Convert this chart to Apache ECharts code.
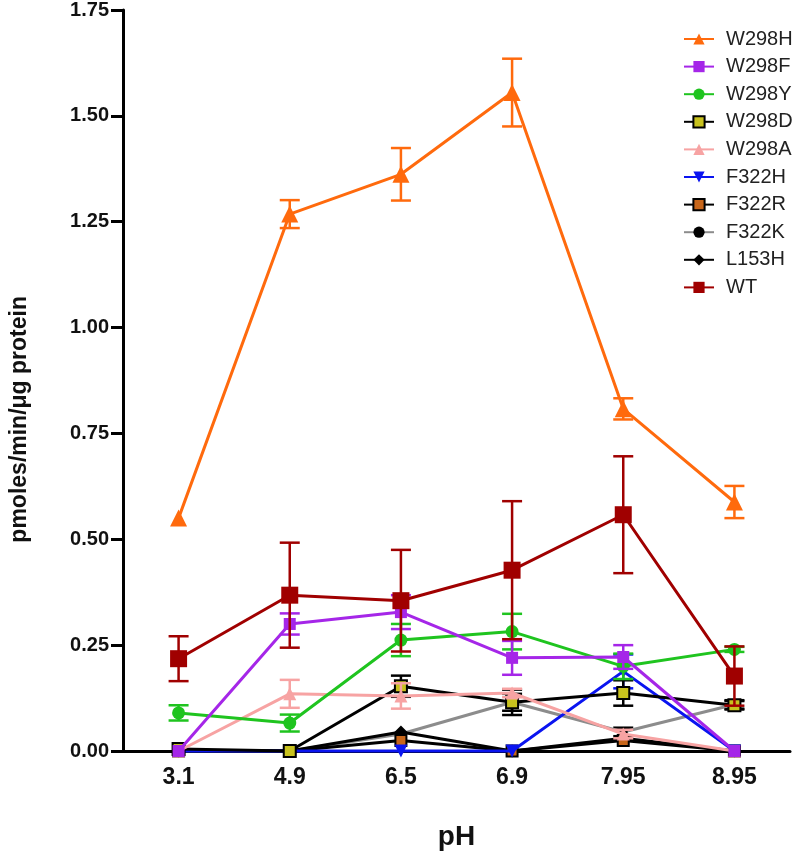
<!DOCTYPE html>
<html>
<head>
<meta charset="utf-8">
<script src="https://cdn.jsdelivr.net/npm/echarts@6/dist/echarts.min.js"></script>
<style>html,body{margin:0;padding:0;background:#fff}#c{width:800px;height:864px}</style>
</head>
<body>
<div id="c"></div>
<script>
const categories = ['3.1', '4.9', '6.5', '6.9', '7.95', '8.95'];
const yTicks = [0, 0.25, 0.5, 0.75, 1.0, 1.25, 1.5, 1.75];

const W298H = [0.55, 1.268, 1.362, 1.555, 0.808, 0.588];
const W298H_err = [0, 0.033, 0.062, 0.08, 0.025, 0.038];
const W298F = [0, 0.300, 0.328, 0.220, 0.222, 0];
const W298F_err = [0, 0.025, 0.04, 0.04, 0.028, 0];
const W298Y = [0.090, 0.066, 0.262, 0.282, 0.200, 0.240];
const W298Y_err = [0.018, 0.02, 0.038, 0.042, 0.03, 0.006];
const W298D = [0.005, 0, 0.153, 0.115, 0.137, 0.108];
const W298D_err = [0, 0, 0.025, 0.02, 0.03, 0.01];
const W298A = [0, 0.135, 0.130, 0.137, 0.040, 0];
const W298A_err = [0, 0.033, 0.03, 0.01, 0.01, 0];
const F322H = [0, 0, 0, 0, 0.188, 0];
const F322H_err = [0, 0, 0, 0, 0.04, 0];
const F322R = [0, 0, 0.025, 0, 0.025, 0];
const F322R_err = [0, 0, 0, 0, 0, 0];
const F322K = [0, 0, 0.040, 0.115, 0.045, 0.110];
const F322K_err = [0, 0, 0, 0.03, 0.01, 0.01];
const L153H = [0, 0, 0.045, 0, 0.030, 0];
const L153H_err = [0, 0, 0, 0, 0, 0];
const WT = [0.218, 0.368, 0.355, 0.427, 0.558, 0.177];
const WT_err = [0.053, 0.124, 0.12, 0.163, 0.138, 0.07];

const seriesDefs = [
  {name: 'W298H', data: W298H, err: W298H_err, line: '#FF6A0D', fill: '#FF6A0D', border: null, symbol: 'triangle', size: 17, rot: 0},
  {name: 'W298F', data: W298F, err: W298F_err, line: '#A526E8', fill: '#A526E8', border: null, symbol: 'rect', size: 12, rot: 0},
  {name: 'W298Y', data: W298Y, err: W298Y_err, line: '#1FC41F', fill: '#1FC41F', border: null, symbol: 'circle', size: 13, rot: 0},
  {name: 'W298D', data: W298D, err: W298D_err, line: '#000000', fill: '#C8C21E', border: '#000', symbol: 'rect', size: 12, rot: 0},
  {name: 'W298A', data: W298A, err: W298A_err, line: '#F7A3A3', fill: '#F7A3A3', border: null, symbol: 'triangle', size: 13, rot: 0},
  {name: 'F322H', data: F322H, err: F322H_err, line: '#0A14F0', fill: '#0A14F0', border: null, symbol: 'triangle', size: 13, rot: 180},
  {name: 'F322R', data: F322R, err: F322R_err, line: '#000000', fill: '#C8661A', border: '#000', symbol: 'rect', size: 11, rot: 0},
  {name: 'F322K', data: F322K, err: F322K_err, line: '#8C8C8C', fill: '#000000', border: null, symbol: 'circle', size: 9, rot: 0},
  {name: 'L153H', data: L153H, err: L153H_err, line: '#000000', fill: '#000000', border: null, symbol: 'diamond', size: 13, rot: 0},
  {name: 'WT', data: WT, err: WT_err, line: '#A00000', fill: '#A00000', border: null, symbol: 'rect', size: 17, rot: 0}
];

const errColor = {W298D: '#000', F322R: '#000', F322K: '#000'};

const series = [];
const drawOrder = ['F322K', 'L153H', 'F322R', 'F322H', 'W298D', 'W298A', 'W298Y', 'W298F', 'WT', 'W298H'];
drawOrder.forEach(function (nm, k) {
  const d = seriesDefs.find(s => s.name === nm);
  const errData = [];
  d.data.forEach(function (v, i) {
    if (d.err[i] > 0) errData.push([i, Math.max(0, v - d.err[i]), v + d.err[i]]);
  });
  const ec = errColor[nm] || d.line;
  series.push({
    name: nm + '_err',
    type: 'custom',
    z: 2 + k,
    silent: true,
    data: errData,
    renderItem: function (params, api) {
      const i = api.value(0);
      const top = api.coord([i, api.value(2)]);
      const bot = api.coord([i, api.value(1)]);
      const hw = 10;
      const st = {stroke: ec, lineWidth: 2.5};
      return {
        type: 'group',
        children: [
          {type: 'line', shape: {x1: top[0], y1: top[1], x2: bot[0], y2: bot[1]}, style: st},
          {type: 'line', shape: {x1: top[0] - hw, y1: top[1], x2: top[0] + hw, y2: top[1]}, style: st},
          {type: 'line', shape: {x1: bot[0] - hw, y1: bot[1], x2: bot[0] + hw, y2: bot[1]}, style: st}
        ]
      };
    }
  });
  series.push({
    name: nm,
    type: 'line',
    z: 2 + k,
    data: d.data,
    symbol: d.symbol,
    symbolSize: d.size,
    symbolRotate: d.rot,
    showAllSymbol: true,
    clip: false,
    lineStyle: {color: d.line, width: 3},
    itemStyle: {color: d.fill, borderColor: d.border || d.fill, borderWidth: d.border ? 2 : 0},
    emphasis: {disabled: true},
    animation: false
  });
});

const chart = echarts.init(document.getElementById('c'), null, {renderer: 'canvas'});
chart.setOption({
  animation: false,
  backgroundColor: '#ffffff',
  grid: {left: 123, right: 10, top: 10, bottom: 113, containLabel: false},
  legend: {
    orient: 'vertical',
    left: 678,
    top: 24,
    itemWidth: 30,
    itemHeight: 14,
    itemGap: 7.6,
    data: seriesDefs.map(s => s.name),
    textStyle: {fontFamily: 'Liberation Sans, Arial, sans-serif', fontSize: 20, color: '#222', padding: [0, 0, 0, 7]}
  },
  xAxis: {
    type: 'category',
    data: categories,
    boundaryGap: true,
    name: 'pH',
    nameLocation: 'middle',
    nameGap: 72,
    nameTextStyle: {fontFamily: 'Liberation Sans, Arial, sans-serif', fontSize: 28, fontWeight: 'bold', color: '#111'},
    axisLine: {lineStyle: {color: '#000', width: 3}},
    axisTick: {show: false},
    axisLabel: {margin: 15, fontFamily: 'Liberation Sans, Arial, sans-serif', fontSize: 23, fontWeight: 'bold', color: '#111'},
    splitLine: {show: false}
  },
  yAxis: {
    type: 'value',
    min: yTicks[0],
    max: yTicks[yTicks.length - 1],
    interval: 0.25,
    axisLine: {show: true, lineStyle: {color: '#000', width: 3}},
    axisTick: {show: true, length: 12, lineStyle: {color: '#000', width: 3}},
    axisLabel: {margin: 14, fontFamily: 'Liberation Sans, Arial, sans-serif', fontSize: 20, fontWeight: 'bold', color: '#111',
      formatter: v => v.toFixed(2)},
    splitLine: {show: false}
  },
  graphic: [{
    type: 'text',
    left: 8,
    top: 296,
    rotation: Math.PI / 2,
    style: {text: 'pmoles/min/μg protein', fontFamily: 'Liberation Sans, Arial, sans-serif', fontSize: 23, fontWeight: 'bold', fill: '#111'}
  }],
  series: series
});
</script>
</body>
</html>
